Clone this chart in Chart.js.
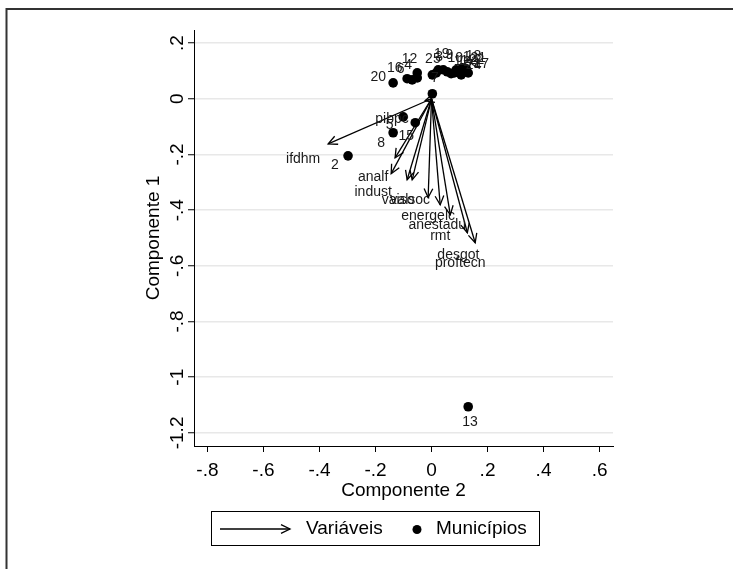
<!DOCTYPE html>
<html>
<head>
<meta charset="utf-8">
<script src="https://cdn.jsdelivr.net/npm/chart.js@4.4.1/dist/chart.umd.min.js"></script>
<style>
  html, body { margin: 0; padding: 0; background: #fff; }
  #wrap { width: 733px; height: 569px; }
</style>
</head>
<body>
<div id="wrap"><canvas id="biplot" width="733" height="569"></canvas></div>
<script>
// Municípios: escores nos dois primeiros componentes
const munLabels = ['1','2','3','4','5','6','7','8','9','10','11','12','13',
                   '14','15','16','17','18','19','20','21','22','23','24','25'];
const munComp2 = [0.088, -0.298, 0.017, -0.051, -0.101, -0.069, 0.003, -0.137, 0.042, 0.056, 0.070, -0.051, 0.131,
                  0.081, -0.058, -0.087, 0.131, 0.110, 0.024, -0.137, 0.124, 0.117, 0.099, 0.106, 0.003];
const munComp1 = [0.104, -0.205, 0.093, 0.075, -0.065, 0.068, 0.018, -0.122, 0.104, 0.097, 0.090, 0.093, -1.106,
                  0.093, -0.086, 0.072, 0.093, 0.111, 0.104, 0.057, 0.108, 0.101, 0.093, 0.086, 0.086];

// Variáveis: cargas (pontas das setas)
const varNames = ['ifdhm','pibpc','analf','indust','vaiso','valsoc','energelc','anestadu','rmt','desgot','proftecn'];
const varComp2 = [-0.369, -0.023, -0.130, -0.144, -0.087, -0.069, -0.012, 0.031, 0.067, 0.128, 0.156];
const varComp1 = [-0.162, -0.007, -0.212, -0.269, -0.291, -0.291, -0.355, -0.381, -0.417, -0.481, -0.517];

const xTicks = [-0.8, -0.6, -0.4, -0.2, 0, 0.2, 0.4, 0.6];
const yTicks = [0.2, 0, -0.2, -0.4, -0.6, -0.8, -1, -1.2];

const FONT = "'Liberation Sans', Arial, sans-serif";

// label nudges (px) from each arrow tip
const varLabelNudge = {
    ifdhm: [-25, 15], pibpc: [-33, 18], analf: [-22, 19], indust: [-18, 18],
    vaiso: [-9, 20], valsoc: [-2, 20], energelc: [0, 19], anestadu: [-3, 20],
    rmt: [-10, 21], desgot: [-9, 22], proftecn: [-15, 20]
};

function stataFmt(v) {
    const s = String(Math.round(v * 10) / 10);
    return s.replace(/^(-?)0\./, '$1.');
}

function arrowHead(ctx, x0, y0, x1, y1, len, ang) {
    const a = Math.atan2(y1 - y0, x1 - x0);
    ctx.beginPath();
    ctx.moveTo(x1 - len * Math.cos(a - ang), y1 - len * Math.sin(a - ang));
    ctx.lineTo(x1, y1);
    ctx.lineTo(x1 - len * Math.cos(a + ang), y1 - len * Math.sin(a + ang));
    ctx.stroke();
}

// one dataset per arrow, drawn from the origin
const arrowSets = varNames.map((name, i) => ({
    type: 'scatter',
    label: name,
    data: [{x: 0, y: 0}, {x: varComp2[i], y: varComp1[i]}],
    showLine: true,
    borderColor: '#000',
    borderWidth: 1.3,
    pointRadius: 0,
    fill: false
}));

const munSet = {
    type: 'scatter',
    label: 'Municípios',
    data: munLabels.map((m, i) => ({x: munComp2[i], y: munComp1[i]})),
    pointRadius: 4.8,
    pointBackgroundColor: '#000',
    pointBorderWidth: 0
};

const decor = {
    id: 'decor',
    afterDatasetsDraw(chart) {
        const ctx = chart.ctx;
        const xs = chart.scales.x, ys = chart.scales.y;
        const ox = xs.getPixelForValue(0), oy = ys.getPixelForValue(0);
        ctx.save();
        // arrowheads + variable labels
        ctx.strokeStyle = '#000';
        ctx.lineWidth = 1.3;
        ctx.font = '14px ' + FONT;
        ctx.fillStyle = '#1a1a1a';
        ctx.textAlign = 'center';
        ctx.textBaseline = 'middle';
        varNames.forEach((name, i) => {
            const tx = xs.getPixelForValue(varComp2[i]);
            const ty = ys.getPixelForValue(varComp1[i]);
            arrowHead(ctx, ox, oy, tx, ty, 10, 0.45);
            const n = varLabelNudge[name];
            ctx.fillText(name, tx + n[0], ty + n[1]);
        });
        // municipality labels, pushed away from the origin
        munLabels.forEach((lab, i) => {
            const px = xs.getPixelForValue(munComp2[i]);
            const py = ys.getPixelForValue(munComp1[i]);
            let dx = px - ox, dy = py - oy;
            const d = Math.hypot(dx, dy) || 1;
            ctx.fillText(lab, px + dx / d * 16, py + dy / d * 16);
        });
        ctx.restore();
    },
    afterDraw(chart) {
        const ctx = chart.ctx;
        ctx.save();
        // outer frame (top and left edges visible)
        ctx.strokeStyle = '#333';
        ctx.lineWidth = 2;
        ctx.beginPath();
        ctx.moveTo(6.5, 600);
        ctx.lineTo(6.5, 9);
        ctx.lineTo(760, 9);
        ctx.stroke();
        // legend
        ctx.lineWidth = 1;
        ctx.strokeStyle = '#000';
        ctx.strokeRect(211.5, 511.5, 328, 34);
        ctx.lineWidth = 1.3;
        ctx.beginPath();
        ctx.moveTo(220, 529);
        ctx.lineTo(290, 529);
        ctx.stroke();
        arrowHead(ctx, 220, 529, 290, 529, 10, 0.45);
        ctx.fillStyle = '#000';
        ctx.beginPath();
        ctx.arc(417, 529.5, 4.5, 0, Math.PI * 2);
        ctx.fill();
        ctx.font = '19px ' + FONT;
        ctx.textBaseline = 'middle';
        ctx.textAlign = 'left';
        ctx.fillText('Variáveis', 306, 529);
        ctx.fillText('Municípios', 436, 529);
        ctx.restore();
    }
};

new Chart(document.getElementById('biplot').getContext('2d'), {
    data: { datasets: [...arrowSets, munSet] },
    options: {
        responsive: false,
        animation: false,
        layout: { padding: { left: 0, right: 120, top: 30, bottom: 0 } },
        plugins: { legend: { display: false }, tooltip: { enabled: false } },
        scales: {
            x: {
                type: 'linear',
                min: -0.848,
                max: 0.648,
                afterBuildTicks: s => { s.ticks = xTicks.map(v => ({value: v})); },
                afterFit: s => { s.height = 123; },
                grid: { drawOnChartArea: false, drawTicks: true, tickLength: 6, tickColor: '#000', tickWidth: 1 },
                border: { display: true, color: '#000', width: 1 },
                ticks: { callback: v => stataFmt(v), color: '#000', font: { family: FONT, size: 19 }, padding: 7, maxRotation: 0, autoSkip: false },
                title: { display: true, text: 'Componente 2', color: '#000', font: { family: FONT, size: 19 }, padding: { top: 0, bottom: 67 } }
            },
            y: {
                type: 'linear',
                min: -1.247,
                max: 0.247,
                afterBuildTicks: s => { s.ticks = yTicks.map(v => ({value: v})); },
                afterFit: s => { s.width = 194; },
                grid: { color: '#e8e8e8', lineWidth: 1.5, drawTicks: true, tickLength: 6, tickColor: '#000', tickWidth: 1 },
                border: { display: true, color: '#000', width: 1 },
                ticks: { callback: v => stataFmt(v), color: '#000', font: { family: FONT, size: 19 }, padding: -6,
                         minRotation: 90, maxRotation: 90, crossAlign: 'center', autoSkip: false },
                title: { display: true, text: 'Componente 1', color: '#000', font: { family: FONT, size: 19 }, padding: { top: 142, bottom: 0 } }
            }
        }
    },
    plugins: [decor]
});
</script>
</body>
</html>
